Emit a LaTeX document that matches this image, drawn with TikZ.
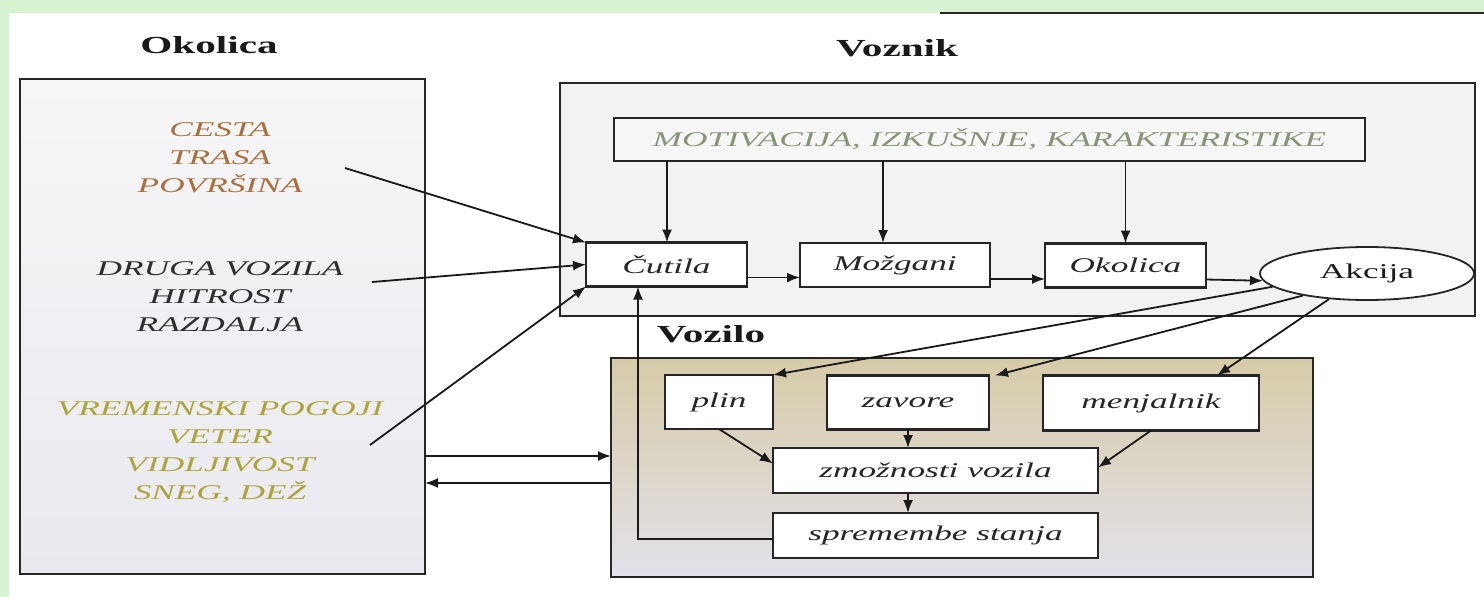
\documentclass[tikz,border=0pt]{standalone}
\usepackage{fontspec}
\setmainfont{Liberation Serif}[FakeStretch=1.68]
\usetikzlibrary{arrows.meta,shapes.geometric}
\definecolor{bandgreen}{HTML}{D8F3D1}
\definecolor{okTop}{HTML}{F6F6F7}
\definecolor{okBot}{HTML}{EAE9F0}
\definecolor{vzfill}{HTML}{F2F2F3}
\definecolor{motfill}{HTML}{F6F6F6}
\definecolor{voTop}{HTML}{D6CBA8}
\definecolor{voMid}{HTML}{DEDAD0}
\definecolor{voBot}{HTML}{E3E1EA}
\definecolor{cestaC}{HTML}{A8703E}
\definecolor{drugaC}{HTML}{2E2E2E}
\definecolor{vremC}{HTML}{ABA53A}
\definecolor{motC}{HTML}{889478}
\begin{document}
\begin{tikzpicture}[x=1pt,y=-1pt,
  box/.style={draw=black!85, line width=2.2pt, inner sep=0pt, outer sep=0pt},
  ibox/.style={box, fill=white, font={\fontsize{21}{25}\selectfont\itshape}, text=black!85},
  title/.style={font={\fontsize{24.5}{28}\selectfont\bfseries}, text=black!90, inner sep=0pt},
  oktext/.style={align=center, font={\fontsize{21}{28}\selectfont\itshape}, inner sep=0pt},
  arr/.style={-{Latex[length=13pt,width=10pt]}, line width=1.8pt, draw=black!90}]
\useasboundingbox (0,0) rectangle (1484,597);
\fill[white] (0,0) rectangle (1484,597);
\fill[bandgreen] (0,0) rectangle (1484,13);
\fill[bandgreen] (0,0) rectangle (9,597);
\draw[line width=2pt, black!85] (940,13) -- (1484,13);

% titles
\node[title, anchor=base] (tok) at (209,53) {Okolica};
\node[title, anchor=base] (tvz) at (897,56) {Voznik};
\node[title, anchor=base] (tvo) at (711,342) {Vozilo};

% Okolica box
\node[box, top color=okTop, bottom color=okBot, minimum width=405pt, minimum height=495pt] (okbox) at (222.5,326.5) {};
\node[oktext, text=cestaC] (tcesta) at (220,158) {CESTA\\TRASA\\POVRŠINA};
\node[oktext, text=drugaC] (tdruga) at (220,297) {DRUGA VOZILA\\HITROST\\RAZDALJA};
\node[oktext, text=vremC] (tvrem) at (220,452) {VREMENSKI POGOJI\\VETER\\VIDLJIVOST\\SNEG, DEŽ};

% Voznik box
\node[box, fill=vzfill, minimum width=915pt, minimum height=233pt] (vzbox) at (1017.5,199.5) {};
\node[box, fill=motfill, minimum width=751pt, minimum height=43pt, font={\fontsize{21}{25}\selectfont\itshape}, text=motC] (motiv) at (989.5,139.5) {MOTIVACIJA, IZKUŠNJE, KARAKTERISTIKE};
\node[ibox, minimum width=161pt, minimum height=44pt] (cutila) at (666.5,264.5) {Čutila};
\node[ibox, minimum width=190pt, minimum height=44pt] (mozgani) at (895,265) {Možgani};
\node[ibox, minimum width=161pt, minimum height=44pt] (okolica) at (1125.5,265.5) {Okolica};
\node[draw=black!85, ellipse, line width=1.8pt, fill=white, minimum width=214pt, minimum height=53pt, inner sep=0pt, font={\fontsize{21}{25}\selectfont}, text=black!90] (akcija) at (1367,273.5) {Akcija};

% Vozilo box
\node[box, top color=voTop, middle color=voMid, bottom color=voBot, minimum width=702pt, minimum height=219pt] (vobox) at (962,467.5) {};
\node[ibox, minimum width=108pt, minimum height=54pt] (plin) at (719,402) {plin};
\node[ibox, minimum width=162pt, minimum height=54pt] (zavore) at (908,402.5) {zavore};
\node[ibox, minimum width=216pt, minimum height=55pt] (menjalnik) at (1151,403) {menjalnik};
\node[ibox, minimum width=325pt, minimum height=45pt] (zmoz) at (935.5,470.5) {zmožnosti vozila};
\node[ibox, minimum width=325pt, minimum height=45pt] (sprem) at (935.5,535.5) {spremembe stanja};

% arrows from motivation
\coordinate (m1) at (667,161);
\coordinate (m2) at (883,161);
\coordinate (m3) at (1125.5,161);
\draw[arr] (m1) -- (m1 |- cutila.north);
\draw[arr] (m2) -- (m2 |- mozgani.north);
\draw[arr] (m3) -- (m3 |- okolica.north);

% chain
\draw[arr] ([yshift=-13pt]cutila.east) -- ([yshift=-13pt]cutila.east -| mozgani.west);
\draw[arr] ([yshift=-14pt]mozgani.east) -- ([yshift=-14pt]mozgani.east -| okolica.west);
\draw[arr] ([yshift=-14pt]okolica.east) -- (akcija.184);

% from Akcija to controls
\draw[arr] (akcija.188) -- (plin.north east);
\draw[arr] (akcija.199) -- ([xshift=6pt]zavore.north east);
\draw[arr] (akcija.214) -- ([xshift=-42pt]menjalnik.north east);

% inside vehicle
\draw[arr] (plin.south) -- ([yshift=7pt]zmoz.west);
\draw[arr] (zavore.south) -- (zavore.south |- zmoz.north);
\draw[arr] (menjalnik.south) -- ([yshift=3pt]zmoz.east);
\draw[arr] ([xshift=-27.5pt]zmoz.south) -- ([xshift=-27.5pt]sprem.north);

% feedback
\draw[arr] ([yshift=-3.5pt]sprem.west) -| ([xshift=-28.5pt]cutila.south);

% environment inputs
\coordinate (c1) at (345,168);
\coordinate (c2) at (372,282);
\coordinate (c3) at (370,445);
\draw[arr] (c1) -- (cutila.north west);
\draw[arr] (c2) -- (cutila.west);
\draw[arr] (c3) -- (cutila.south west);

% environment <-> vehicle
\draw[arr] ([yshift=-129.5pt]okbox.east) -- ([yshift=-129.5pt]okbox.east -| vobox.west);
\draw[arr] ([yshift=-156.5pt]okbox.east -| vobox.west) -- ([yshift=-156.5pt]okbox.east);
\end{tikzpicture}
\end{document}
